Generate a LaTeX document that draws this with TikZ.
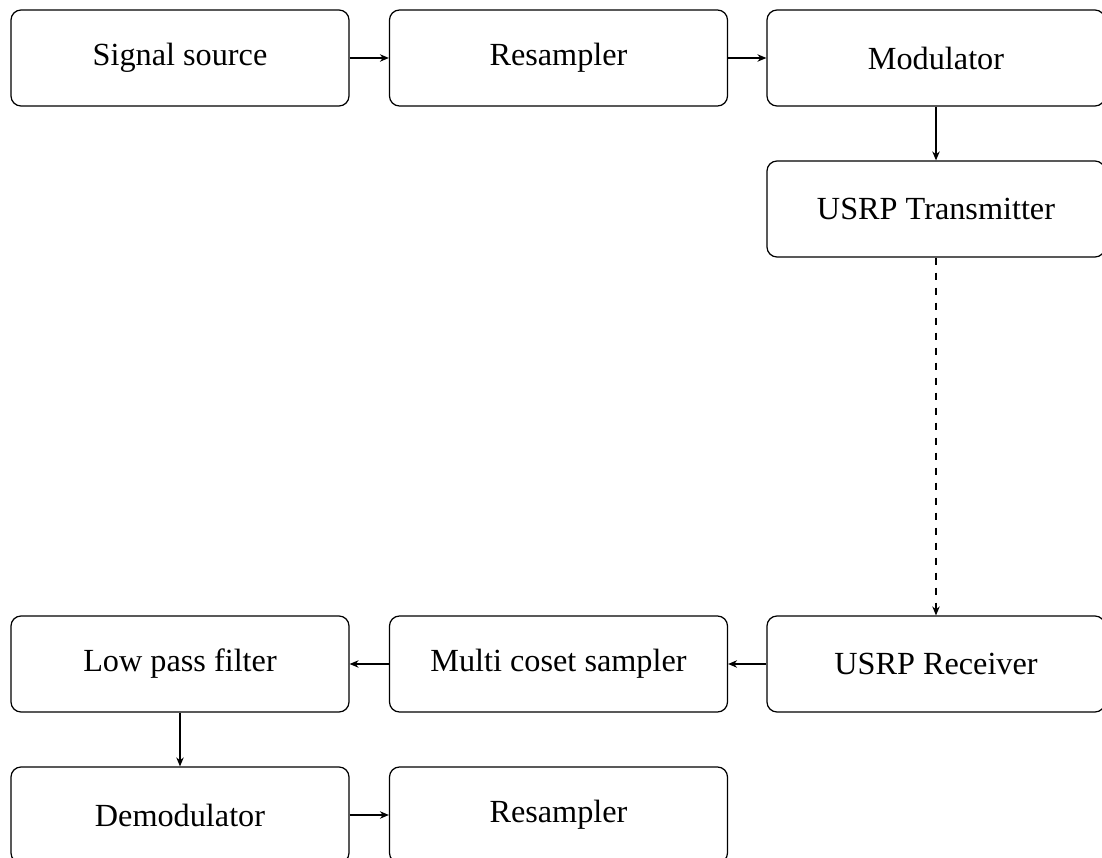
\documentclass[tikz,border=0pt]{standalone}
\usepackage{fontspec}
\setmainfont{Liberation Serif}
\usetikzlibrary{arrows.meta}
\begin{document}
\begin{tikzpicture}[x=0.4pt,y=-0.4pt,
  blk/.style={draw, rounded corners=4pt, minimum width=135.2pt, minimum height=38.4pt, inner sep=0pt, font=\fontsize{12.9}{15}\selectfont, line width=0.5pt},
  arr/.style={-{Stealth[length=3.6pt,width=3pt]}, line width=0.5pt}]
\useasboundingbox (0,0) rectangle (1102,858);
\begin{scope}
\clip (0,0) rectangle (1102,858);
\node[blk] (src) at (180,58) {Signal source};
\node[blk] (rs1) at (558.5,58) {Resampler};
\node[blk] (mod) at (936,58) {Modulator};
\node[blk] (tx) at (936,209) {USRP Transmitter};
\node[blk] (rx) at (936,664) {USRP Receiver};
\node[blk] (mcs) at (558.5,664) {Multi coset sampler};
\node[blk] (lpf) at (180,664) {Low pass filter};
\node[blk] (dem) at (180,815) {Demodulator};
\node[blk] (rs2) at (558.5,815) {Resampler};
\draw[arr] (src) -- (rs1);
\draw[arr] (rs1) -- (mod);
\draw[arr] (mod) -- (tx);
\draw[arr, dashed] (tx) -- (rx);
\draw[arr] (rx) -- (mcs);
\draw[arr] (mcs) -- (lpf);
\draw[arr] (lpf) -- (dem);
\draw[arr] (dem) -- (rs2);
\end{scope}
\end{tikzpicture}
\end{document}
